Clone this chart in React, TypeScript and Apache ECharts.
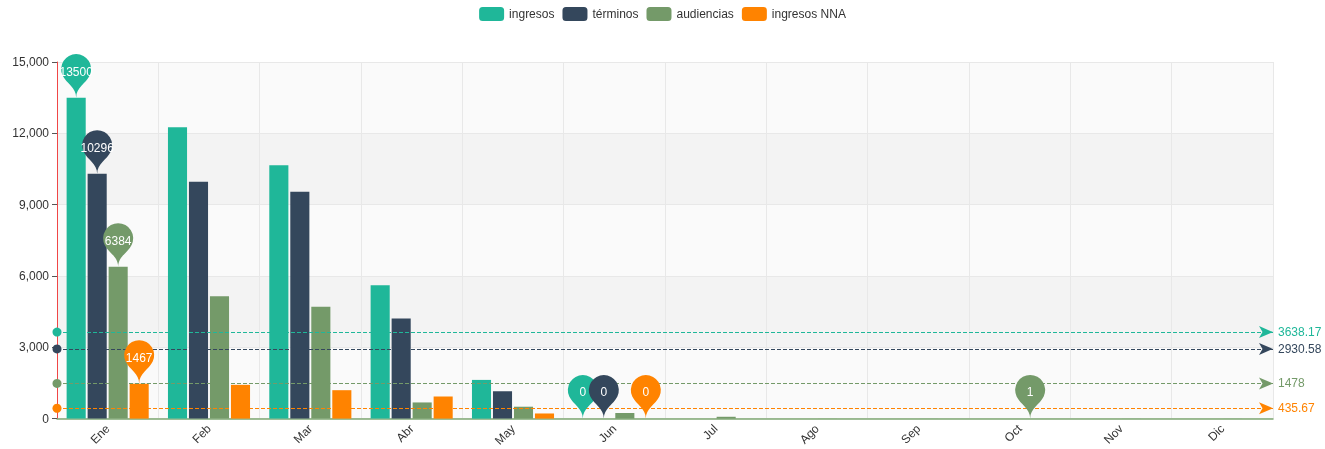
import React, { useEffect, useRef } from "react";
import * as echarts from "echarts";

const months = ["Ene", "Feb", "Mar", "Abr", "May", "Jun", "Jul", "Ago", "Sep", "Oct", "Nov", "Dic"];
const seriesNames = ["ingresos", "términos", "audiencias", "ingresos NNA"];
const ingresos = [13500, 12260, 10660, 5610, 1628, 0, 0, 0, 0, 0, 0, 0];
const terminos = [10296, 9960, 9545, 4215, 1151, 0, 0, 0, 0, 0, 0, 0];
const audiencias = [6384, 5150, 4700, 680, 500, 235, 77, 3, 2, 1, 2, 2];
const ingresosNNA = [1467, 1420, 1195, 930, 216, 0, 0, 0, 0, 0, 0, 0];
const colors = ["#1fb799", "#34475c", "#749a69", "#ff8300"];
const yMax = 15000;
const yInterval = 3000;

export default function App() {
  const ref = useRef<HTMLDivElement>(null);
  useEffect(() => {
    if (!ref.current) return;
    const chart = echarts.init(ref.current, undefined, { renderer: "svg" });
    const allData = [ingresos, terminos, audiencias, ingresosNNA];
    chart.setOption({
      animation: false,
      color: colors,
      textStyle: { fontFamily: "Liberation Sans, Arial, sans-serif" },
      legend: {
        top: 2,
        data: seriesNames,
        textStyle: { color: "#333", fontSize: 12 },
      },
      grid: { left: 57, right: 52, top: 62, bottom: 28 },
      xAxis: {
        type: "category",
        data: months,
        axisLine: { lineStyle: { color: "#7fa873", width: 1.5 } },
        axisTick: { lineStyle: { color: "#555" } },
        axisLabel: { rotate: 45, color: "#333", fontSize: 12 },
        splitLine: { show: true, lineStyle: { color: "#e8e8e8" } },
      },
      yAxis: {
        type: "value",
        min: 0,
        max: yMax,
        interval: yInterval,
        axisLine: { show: true, lineStyle: { color: "#f04646" } },
        axisTick: { show: true, lineStyle: { color: "#555" } },
        axisLabel: { color: "#333", fontSize: 12 },
        splitLine: { show: true, lineStyle: { color: "#e8e8e8" } },
        splitArea: { show: true, areaStyle: { color: ["#fafafa", "#f3f3f3"] } },
      },
      series: seriesNames.map((name, i) => ({
        name,
        type: "bar",
        data: allData[i],
        itemStyle: { color: colors[i] },
        markPoint: {
          data: [
            { type: "max", name: "max" },
            { type: "min", name: "min" },
          ],
          label: { color: "#fff", fontSize: 12 },
        },
        markLine: {
          data: [{ type: "average", name: "avg" }],
          symbolSize: [9, 14],
          lineStyle: { color: colors[i], type: "dashed" },
          label: { color: colors[i], fontSize: 12 },
        },
      })),
    });
    return () => chart.dispose();
  }, []);
  return (
    <div
      ref={ref}
      style={{ position: "fixed", left: 0, top: 0, width: 1325, height: 449 }}
    />
  );
}
